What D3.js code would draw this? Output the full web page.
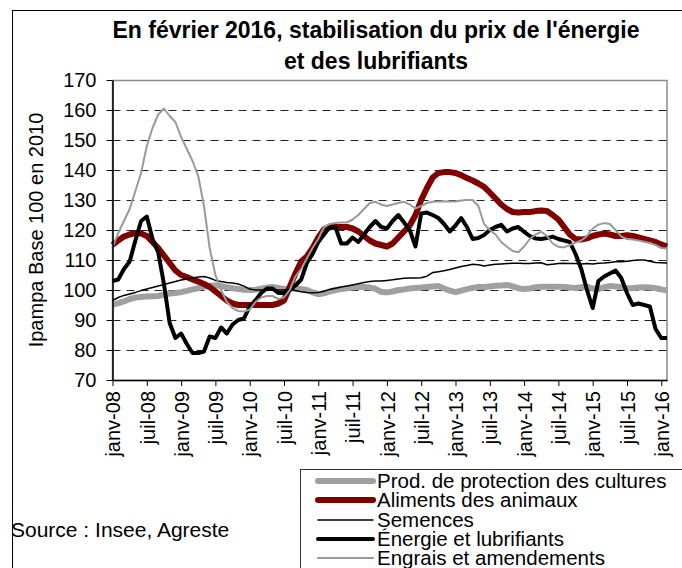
<!DOCTYPE html>
<html>
<head>
<meta charset="utf-8">
<script src="https://cdn.jsdelivr.net/npm/d3@7"></script>
<style>
  body { margin: 0; background: #fff; }
  text { font-family: "Liberation Sans", Arial, sans-serif; }
</style>
</head>
<body>
<script>
const w = 682; // width
const h = 568; // height

// tick labels, one every 6 months (janv-08 .. janv-16)
const tickLabels = ["janv-08", "juil-08", "janv-09", "juil-09", "janv-10", "juil-10",
    "janv-11", "juil-11", "janv-12", "juil-12", "janv-13", "juil-13",
    "janv-14", "juil-14", "janv-15", "juil-15", "janv-16"];
const yTicks = [70, 80, 90, 100, 110, 120, 130, 140, 150, 160, 170];

// monthly values, janv-08 .. fevr-16 (98 months)
const prod = [95, 95.6, 96.2, 97, 97.5, 97.7, 97.8, 97.9, 98, 98.4,
    98.8, 99, 99.3, 99.7, 100.2, 100.6, 101.1, 101.4, 101.5, 101.3,
    100.9, 100.6, 100.3, 100.1, 100, 100.1, 100.4, 100.8, 101, 100.7,
    100.3, 100.4, 100.5, 100.3, 100, 99.2, 98.6, 98.9, 99.5, 100,
    100.3, 100.6, 100.8, 101, 101, 100.8, 100.4, 99.4, 99.2, 99.5,
    100, 100.2, 100.5, 100.7, 100.8, 101, 101.2, 101.3, 100.5, 99.8,
    99.3, 99.8, 100.3, 100.7, 101, 101, 101.2, 101.4, 101.5, 101.7,
    101.2, 100.6, 100.3, 100.5, 100.9, 101.1, 101.1, 101.1, 101.1, 101,
    100.8, 100.7, 100.9, 101.1, 100.5, 100.3, 100.9, 101.3, 101.2, 100.9,
    100.6, 100.6, 100.8, 100.9, 100.8, 100.6, 100.2, 99.8];

const aliments = [115, 116.5, 117.8, 118.5, 119, 118.8, 118, 116, 114, 111.5,
    109, 106.5, 105, 104.3, 103.5, 102.8, 102, 101, 99.5, 98,
    96.5, 95.5, 95, 95, 95, 95, 95, 95, 95, 95.5,
    96.5, 101, 105.5, 109.5, 111.2, 114, 117.5, 120.3, 121, 121,
    121, 121, 120.5, 119.5, 118, 116.5, 115.5, 115, 114.5, 115.5,
    117.5, 119.5, 121.5, 125, 130, 134, 137.5, 139, 139.3, 139.3,
    139, 138.3, 137.3, 136.5, 135.5, 134.4, 132.5, 130.5, 128.5, 127,
    126, 125.8, 126, 126, 126.3, 126.5, 126.3, 125, 123.5, 121,
    118.5, 117, 116.8, 117.2, 118, 118.5, 118.8, 118.5, 118, 118,
    118.3, 118, 117.5, 117, 116.5, 116, 115.2, 114.5];

const semences = [96.5, 97.5, 98.2, 98.7, 99.2, 99.8, 100.3, 100.8, 101.3, 101.8,
    102.3, 102.8, 103.3, 103.7, 104, 104.3, 104.5, 104, 103.2, 102.8,
    102.5, 102.3, 102, 101.3, 100.3, 100, 100, 100, 100, 100,
    100, 100.3, 99.8, 99.4, 99.2, 99.1, 99.2, 99.6, 100.2, 100.6,
    101, 101.3, 101.7, 102.1, 102.5, 102.8, 103, 103, 103.2, 103.4,
    103.7, 103.9, 104, 104, 104.1, 104.6, 105.8, 106.1, 106.4, 106.8,
    107.3, 107.8, 108.2, 108.6, 108.4, 108, 108.3, 108.6, 108.7, 108.8,
    108.9, 108.9, 108.8, 108.8, 109, 109.1, 108.4, 108.6, 108.8, 108.9,
    108.8, 108.8, 108.7, 108.8, 108.7, 108.9, 109, 109.2, 109.4, 109.4,
    109.6, 109.8, 110, 110, 109.6, 109.2, 109.1, 109];

const energie = [103, 103.5, 107, 109.5, 116.5, 123, 124.5, 117, 112.5, 102,
    89, 84, 85.5, 82, 79, 79, 79.5, 84.5, 84, 87.5,
    85.5, 88.5, 90, 90.5, 94.5, 96.5, 99, 100.5, 100.5, 99,
    99, 100, 101.5, 103.5, 109, 112, 116, 118.5, 121, 121,
    115.5, 115.5, 117.5, 116, 118.5, 121, 123, 121, 120.5, 123,
    125, 122.5, 120, 114.5, 125.5, 125.8, 125, 124, 122, 119.5,
    121.5, 124, 121, 117, 117.3, 118.3, 120, 121, 121.7, 119.5,
    120.5, 121, 119.4, 118, 117.2, 117, 117.3, 117.8, 117, 116.5,
    116, 112, 107, 100, 94, 103, 104.5, 105.5, 106.5, 104,
    99, 95, 95.5, 95, 94.5, 87, 84, 84];

const engrais = [114, 119, 123, 127, 133, 139, 148, 154, 158.5, 160.5,
    158, 156, 151, 147, 143, 138, 128, 114, 105, 100,
    96, 94, 93, 92.8, 93.5, 96, 97.5, 98, 98, 97,
    97.5, 100, 104.5, 107, 110.5, 114, 117, 121, 122, 122.3,
    122.5, 122.5, 123.5, 125, 127, 129, 129.4, 128.5, 128, 128.5,
    129, 129.4, 128.5, 127.2, 128, 129, 129.4, 129.5, 129.6, 129.5,
    129.5, 129.8, 130, 130, 128, 122, 120, 118.5, 116, 114.4,
    113, 112.6, 114.5, 117, 118.5, 119.4, 118, 115.5, 114.4, 114.2,
    115, 115.8, 116.5, 118, 120.5, 121.8, 122.3, 122, 120, 117.8,
    117, 116.8, 116.5, 116.1, 115.7, 115, 114, 113.8];

const seriesNames = ["Prod. de protection des cultures", "Aliments des animaux",
    "Semences", "Énergie et lubrifiants", "Engrais et amendements"];
const seriesValues = [prod, aliments, semences, energie, engrais];
const seriesColors = ["#a0a0a0", "#800000", "#000000", "#000000", "#9a9a9a"];
const seriesWidths = [6, 6, 1.5, 4, 2];

// plot area
const pLeft = 112.5, pRight = 667, pTop = 80, pBottom = 380;

let svg = d3.select("body")
    .append("svg")
    .attr("width", w)
    .attr("height", h);

// outer frame (runs off the picture on the right and bottom)
svg.append("rect")
    .attr("x", 12.5).attr("y", 10.5)
    .attr("width", 700).attr("height", 600)
    .attr("fill", "none").attr("stroke", "#000");

// title
svg.append("text")
    .attr("x", 376).attr("y", 38)
    .attr("text-anchor", "middle")
    .style("font-size", "23px").style("font-weight", "bold")
    .text("En février 2016, stabilisation du prix de l'énergie");
svg.append("text")
    .attr("x", 376).attr("y", 69)
    .attr("text-anchor", "middle")
    .style("font-size", "23px").style("font-weight", "bold")
    .text("et des lubrifiants");

// scales
let x = d3.scaleLinear()
    .domain([0, prod.length - 1])
    .range([pLeft, pRight]);

let y = d3.scaleLinear()
    .domain([70, 170])
    .range([pBottom, pTop]);

// plot border (grey top and right)
svg.append("rect")
    .attr("x", pLeft).attr("y", pTop + 0.5)
    .attr("width", pRight - pLeft).attr("height", pBottom - pTop)
    .attr("fill", "none").attr("stroke", "#8c8c8c").attr("stroke-width", 1.5);

// dashed grid
svg.append("g")
    .selectAll("line")
    .data(yTicks.filter(v => v > 70 && v < 170))
    .enter()
    .append("line")
    .attr("x1", pLeft).attr("x2", pRight)
    .attr("y1", d => Math.round(y(d)) + 0.5)
    .attr("y2", d => Math.round(y(d)) + 0.5)
    .attr("stroke", "#222")
    .attr("stroke-dasharray", "8,6");

// series lines
const line = d3.line()
    .x((d, i) => x(i))
    .y(d => y(d));

svg.append("g")
    .selectAll("path")
    .data(seriesValues)
    .enter()
    .append("path")
    .attr("d", d => line(d))
    .attr("fill", "none")
    .attr("stroke", (d, i) => seriesColors[i])
    .attr("stroke-width", (d, i) => seriesWidths[i])
    .attr("stroke-linejoin", "round")
    .attr("stroke-linecap", "butt");

// y axis
let yAxis = svg.append("g")
    .attr("transform", `translate(${pLeft},0)`)
    .call(d3.axisLeft(y).tickValues(yTicks).tickSize(6).tickSizeOuter(0).tickPadding(10));
yAxis.selectAll("text")
    .style("font-size", "20px")
    .attr("fill", "#000")
    .style("font-family", "'Liberation Sans', Arial, sans-serif");
yAxis.select(".domain").attr("stroke", "#000").attr("stroke-width", 1.5);

// x axis
let xAxis = svg.append("g")
    .attr("transform", `translate(0,${pBottom})`)
    .call(d3.axisBottom(x)
        .tickValues(d3.range(0, prod.length, 6))
        .tickFormat((d, i) => tickLabels[i])
        .tickSize(6).tickSizeOuter(0));
xAxis.select(".domain").attr("stroke", "#000").attr("stroke-width", 1.5);
xAxis.selectAll("text")
    .attr("transform", "rotate(-90)")
    .attr("x", -11)
    .attr("y", 0)
    .attr("dy", "0.36em")
    .attr("fill", "#000")
    .style("text-anchor", "end")
    .style("font-size", "20px")
    .style("font-family", "'Liberation Sans', Arial, sans-serif");

// y axis label
svg.append("text")
    .attr("transform", "rotate(-90)")
    .attr("x", -230)
    .attr("y", 43)
    .attr("text-anchor", "middle")
    .style("font-size", "20px")
    .text("Ipampa Base 100 en 2010");

// source
svg.append("text")
    .attr("x", 11)
    .attr("y", 537)
    .style("font-size", "21px")
    .text("Source : Insee, Agreste");

// legend
let legend = svg.append("g");
legend.append("rect")
    .attr("x", 300.5).attr("y", 469.5)
    .attr("width", 420).attr("height", 140)
    .attr("fill", "#fff").attr("stroke", "#333");

const rowY = [481, 500, 520, 539, 558];
let rows = legend.selectAll("g.row")
    .data(seriesNames)
    .enter()
    .append("g")
    .attr("class", "row");
rows.append("line")
    .attr("x1", 318).attr("x2", 373)
    .attr("y1", (d, i) => rowY[i]).attr("y2", (d, i) => rowY[i])
    .attr("stroke", (d, i) => seriesColors[i])
    .attr("stroke-width", (d, i) => seriesWidths[i])
    .attr("stroke-linecap", "round");
rows.append("text")
    .attr("x", 377)
    .attr("y", (d, i) => rowY[i] + 7)
    .style("font-size", "20.5px")
    .text(d => d);
</script>
</body>
</html>
